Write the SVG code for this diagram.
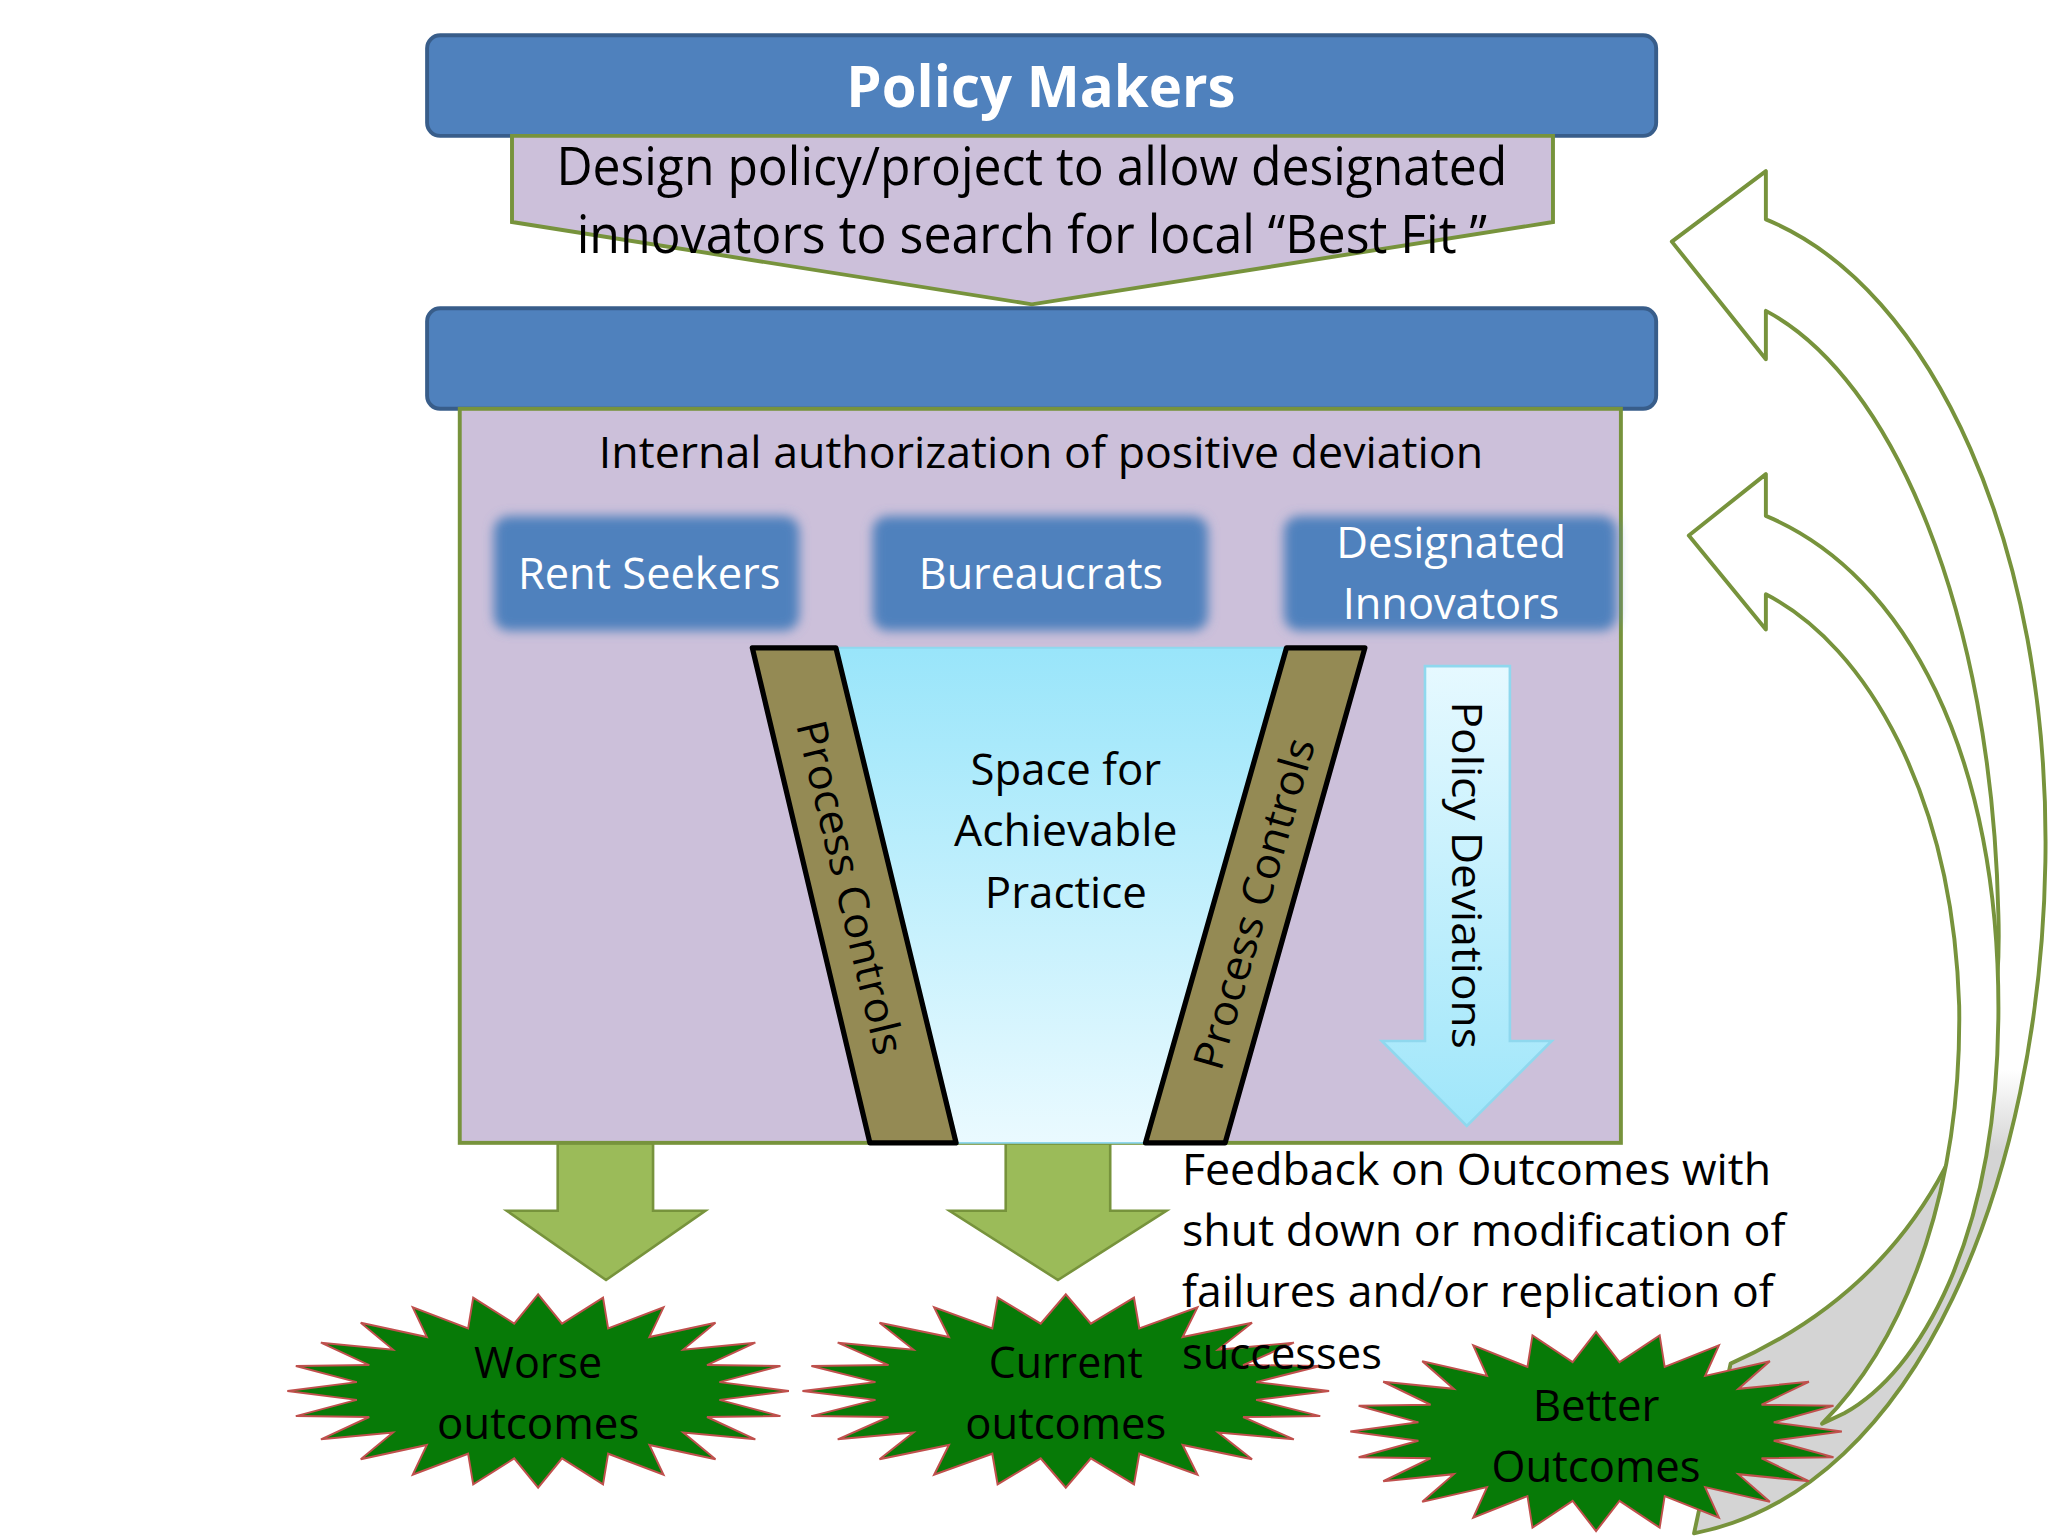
<svg xmlns="http://www.w3.org/2000/svg" width="2048" height="1536" viewBox="0 0 2048 1536">
<style>
.t{font-family:"Liberation Sans Narrow","Open Sans","Liberation Sans",sans-serif;fill:#000;text-anchor:middle}
.w{fill:#fff}
.bar{fill:#4f81bd;stroke:#385d8a;stroke-width:3}
.btn{fill:#4f81bd}
.burst{fill:#077a07;stroke:#c0504d;stroke-width:1.5}
.garrow{fill:#9bbb59;stroke:#77933c;stroke-width:2}
.band{fill:#948a54;stroke:#000;stroke-width:4;stroke-linejoin:round}
.curve{stroke:#77933c;stroke-width:3;stroke-linejoin:round}
</style>
<defs>
<linearGradient id="fun" x1="0" y1="0" x2="0" y2="1"><stop offset="0" stop-color="#99e5fa"/><stop offset="1" stop-color="#eafaff"/></linearGradient>
<linearGradient id="pd" x1="0" y1="0" x2="0" y2="1"><stop offset="0" stop-color="#e6f9ff"/><stop offset="1" stop-color="#9fe6fa"/></linearGradient>
<linearGradient id="cg" x1="0" y1="0" x2="0" y2="1"><stop offset="0" stop-color="#fff"/><stop offset="0.66" stop-color="#fff"/><stop offset="0.72" stop-color="#d4d4d4"/><stop offset="1" stop-color="#d4d4d4"/></linearGradient>
<filter id="glow" x="-10%" y="-20%" width="120%" height="140%"><feGaussianBlur stdDeviation="4"/></filter>
<polygon id="star" points="192,0 138.8,6.8 185.5,19.2 129.3,19.9 166.3,37 111.1,31.7 135.8,52.3 85.2,41.3 96,64.1 53.6,48 49.7,71.5 18.3,51.6 0,74 -18.3,51.6 -49.7,71.5 -53.6,48 -96,64.1 -85.2,41.3 -135.8,52.3 -111.1,31.7 -166.3,37 -129.3,19.9 -185.5,19.2 -138.8,6.8 -192,0 -138.8,-6.8 -185.5,-19.2 -129.3,-19.9 -166.3,-37 -111.1,-31.7 -135.8,-52.3 -85.2,-41.3 -96,-64.1 -53.6,-48 -49.7,-71.5 -18.3,-51.6 0,-74 18.3,-51.6 49.7,-71.5 53.6,-48 96,-64.1 85.2,-41.3 135.8,-52.3 111.1,-31.7 166.3,-37 129.3,-19.9 185.5,-19.2 138.8,-6.8"/>
</defs>
<rect width="2048" height="1536" fill="#fff"/>
<g transform="scale(1.30612)">
<g id="connectors">
<path class="curve" fill="url(#cg)" d="M1280,185 L1352,131 L1352,168 C1480,220 1570,420 1566,660 C1562,900 1470,1140 1297,1174 L1325,1044 C1470,980 1535,850 1530,700 C1525,470 1450,290 1352,238 L1352,275 Z"/>
<path class="curve" fill="#fff" d="M1293,410 L1352,363 L1352,395 C1460,440 1532,580 1530,780 C1528,950 1470,1050 1412,1082 L1395,1090 C1465,1020 1502,900 1500,770 C1495,610 1430,495 1352,455 L1352,482 Z"/>
<path class="garrow" d="M427,875 L500,875 L500,927 L540,927 L464,980 L388,927 L427,927 Z"/>
<path class="garrow" d="M770,875 L850,875 L850,927 L893,927 L810,980 L727,927 L770,927 Z"/>
</g>
<g id="policy-makers">
<rect class="bar" x="327" y="27" width="941" height="77" rx="10"/>
<text class="t w" x="797" y="82" font-size="44" font-weight="bold" textLength="298" lengthAdjust="spacingAndGlyphs">Policy Makers</text>
</g>
<g id="design">
<polygon points="392,104 1189,104 1189,170 790,233 392,170" fill="#ccc0da" stroke="#77933c" stroke-width="3"/>
<text class="t" x="790" y="142" font-size="40" textLength="728" lengthAdjust="spacingAndGlyphs">Design policy/project to allow designated</text>
<text class="t" x="790" y="194" font-size="40" textLength="697" lengthAdjust="spacingAndGlyphs">innovators to search for local “Best Fit ”</text>
</g>
<g id="org">
<rect class="bar" x="327" y="236" width="941" height="77" rx="10"/>
<rect x="352" y="313" width="889" height="562" fill="#ccc0da" stroke="#77933c" stroke-width="3"/>
<text class="t" x="797" y="358" font-size="34" textLength="677" lengthAdjust="spacingAndGlyphs">Internal authorization of positive deviation</text>
</g>
<g id="rent-seekers">
<rect class="btn" x="378" y="395" width="234" height="88" rx="12" filter="url(#glow)"/>
<text class="t w" x="497" y="451" font-size="34" textLength="201" lengthAdjust="spacingAndGlyphs">Rent Seekers</text>
</g>
<g id="bureaucrats">
<rect class="btn" x="668" y="395" width="257" height="88" rx="12" filter="url(#glow)"/>
<text class="t w" x="797" y="451" font-size="34" textLength="187" lengthAdjust="spacingAndGlyphs">Bureaucrats</text>
</g>
<g id="designated-innovators">
<rect class="btn" x="983" y="395" width="255" height="88" rx="12" filter="url(#glow)"/>
<text class="t w" x="1111" y="427" font-size="34" textLength="176" lengthAdjust="spacingAndGlyphs">Designated</text>
<text class="t w" x="1111" y="474" font-size="34" textLength="166" lengthAdjust="spacingAndGlyphs">Innovators</text>
</g>
<g id="space">
<polygon points="640,496 985,496 877,875 733,875" fill="url(#fun)" stroke="#8fd8ee" stroke-width="1.5"/>
<text class="t" x="816" y="601" font-size="34" textLength="146" lengthAdjust="spacingAndGlyphs">Space for</text>
<text class="t" x="816" y="648" font-size="34" textLength="171" lengthAdjust="spacingAndGlyphs">Achievable</text>
<text class="t" x="816" y="695" font-size="34" textLength="124" lengthAdjust="spacingAndGlyphs">Practice</text>
</g>
<g id="process-controls-left">
<polygon class="band" points="576,496 640,496 732,875 666,875"/>
<text class="t" transform="translate(640,682) rotate(76.5)" font-size="32" textLength="262" lengthAdjust="spacingAndGlyphs">Process Controls</text>
</g>
<g id="process-controls-right">
<polygon class="band" points="985,496 1045,496 938,875 877,875"/>
<text class="t" transform="translate(971,695) rotate(-74)" font-size="32" textLength="262" lengthAdjust="spacingAndGlyphs">Process Controls</text>
</g>
<g id="policy-deviations">
<path d="M1091,510 L1156,510 L1156,797 L1188,797 L1123,862 L1058,797 L1091,797 Z" fill="url(#pd)" stroke="#8fd8ee" stroke-width="2"/>
<text class="t" transform="translate(1112,670) rotate(90)" font-size="32" textLength="266" lengthAdjust="spacingAndGlyphs">Policy Deviations</text>
</g>
<g id="feedback">
<text class="t" style="text-anchor:start" x="905" y="907" font-size="34" textLength="451" lengthAdjust="spacingAndGlyphs">Feedback on Outcomes with</text>
<text class="t" style="text-anchor:start" x="905" y="954" font-size="34" textLength="462" lengthAdjust="spacingAndGlyphs">shut down or modification of</text>
<text class="t" style="text-anchor:start" x="905" y="1001" font-size="34" textLength="453" lengthAdjust="spacingAndGlyphs">failures and/or replication of</text>
</g>
<g id="worse">
<use href="#star" class="burst" transform="translate(412,1065)"/>
<text class="t" x="412" y="1055" font-size="34" textLength="98" lengthAdjust="spacingAndGlyphs">Worse</text>
<text class="t" x="412" y="1102" font-size="34" textLength="155" lengthAdjust="spacingAndGlyphs">outcomes</text>
</g>
<g id="current">
<use href="#star" class="burst" transform="translate(816,1065) scale(1.05,1)"/>
<text class="t" x="816" y="1055" font-size="34" textLength="118" lengthAdjust="spacingAndGlyphs">Current</text>
<text class="t" x="816" y="1102" font-size="34" textLength="154" lengthAdjust="spacingAndGlyphs">outcomes</text>
</g>
<text class="t" style="text-anchor:start" x="905" y="1048" font-size="34" textLength="153" lengthAdjust="spacingAndGlyphs">successes</text>
<g id="better">
<use href="#star" class="burst" transform="translate(1222,1096) scale(0.98,1.03)"/>
<text class="t" x="1222" y="1088" font-size="34" textLength="97" lengthAdjust="spacingAndGlyphs">Better</text>
<text class="t" x="1222" y="1135" font-size="34" textLength="160" lengthAdjust="spacingAndGlyphs">Outcomes</text>
</g>
</g>
</svg>
